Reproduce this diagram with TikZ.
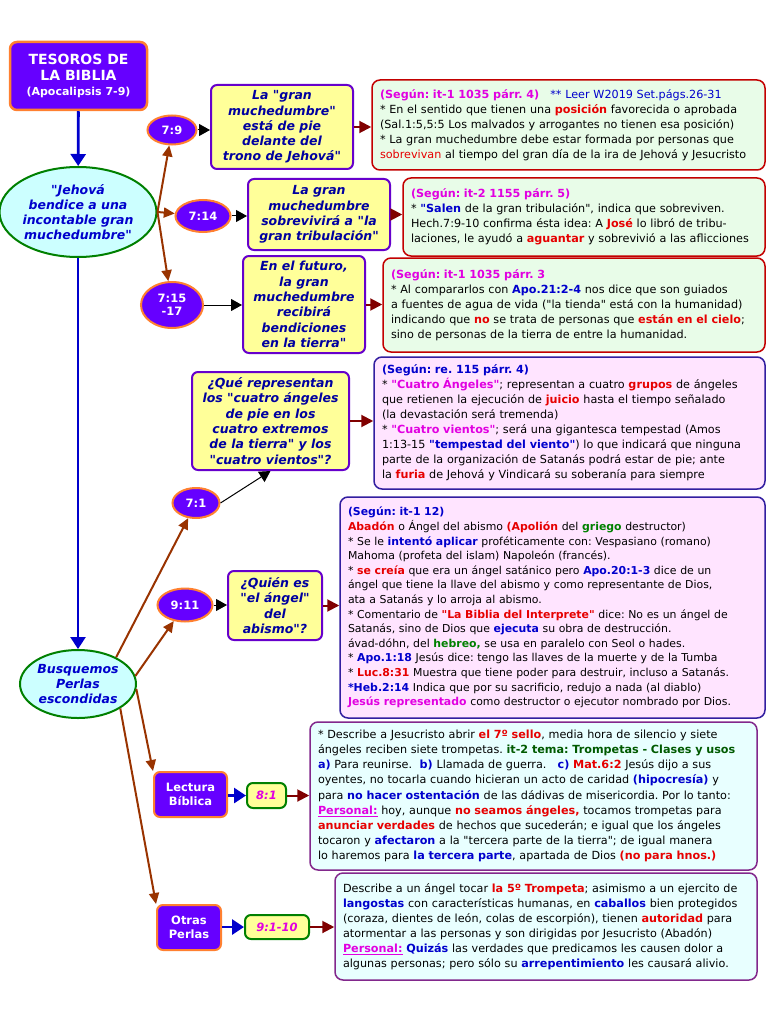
\documentclass[tikz,border=0pt]{standalone}
\usepackage{fontspec}
\setmainfont{DejaVu Sans}[Ligatures=TeXOff]
\usepackage{xcolor}
\usetikzlibrary{shapes.geometric, arrows.meta, positioning, calc}
\definecolor{bibviolet}{RGB}{102,0,255}
\definecolor{biborange}{RGB}{255,128,48}
\definecolor{bibgreen}{RGB}{0,128,0}
\definecolor{bibdkgreen}{RGB}{0,90,0}
\definecolor{bibcyan}{RGB}{204,255,255}
\definecolor{bibyellow}{RGB}{255,255,153}
\definecolor{bibpurple}{RGB}{102,0,204}
\definecolor{bibbrown}{RGB}{153,51,0}
\definecolor{bibmaroon}{RGB}{128,0,0}
\definecolor{bibred}{RGB}{230,0,0}
\definecolor{bibblue}{RGB}{0,0,204}
\definecolor{bibnavy}{RGB}{0,0,160}
\definecolor{bibmagenta}{RGB}{225,0,225}
\definecolor{notegreen}{RGB}{232,252,232}
\definecolor{notepink}{RGB}{255,228,255}
\definecolor{notecyan}{RGB}{232,255,255}
\definecolor{noteindigo}{RGB}{50,30,160}
\definecolor{noteplum}{RGB}{130,40,140}

\newcommand{\rojo}[1]{{\color{bibred}\bfseries #1}}
\newcommand{\azul}[1]{{\color{bibblue}\bfseries #1}}
\newcommand{\rosa}[1]{{\color{bibmagenta}\bfseries #1}}
\newcommand{\verde}[1]{{\color{bibgreen}\bfseries #1}}
\newcommand{\personal}[1]{{\color{bibmagenta}\bfseries\underline{#1}}}
\frenchspacing

\begin{document}
\begin{tikzpicture}[
    x=1pt, y=-1pt,
    title/.style={rectangle, rounded corners=7pt, draw=biborange, line width=2.5pt,
                  fill=bibviolet, text=white, inner sep=0pt, align=center,
                  font=\bfseries\fontsize{14}{15.5}\selectfont},
    part/.style={rectangle, rounded corners=6pt, draw=biborange, line width=2pt,
                 fill=bibviolet, text=white, inner sep=0pt, align=center,
                 font=\bfseries\fontsize{11.5}{14}\selectfont},
    verse/.style={ellipse, draw=biborange, line width=2pt, fill=bibviolet,
                  text=white, inner sep=0pt, align=center,
                  font=\bfseries\fontsize{11.5}{13.5}\selectfont},
    theme/.style={ellipse, draw=bibgreen, line width=2pt, fill=bibcyan,
                  text=bibblue, inner sep=0pt, align=center,
                  font=\bfseries\itshape\fontsize{12.5}{15}\selectfont},
    idea/.style={rectangle, rounded corners=6pt, draw=bibpurple, line width=2pt,
                 fill=bibyellow, text=bibnavy, inner sep=0pt, align=center,
                 font=\bfseries\itshape\fontsize{12.5}{15.3}\selectfont},
    cita/.style={rectangle, rounded corners=6pt, draw=bibgreen, line width=2pt,
                 fill=bibyellow, text=bibmagenta, inner sep=0pt,
                 font=\bfseries\itshape\fontsize{11.5}{13}\selectfont},
    note/.style={rectangle, rounded corners=8pt, line width=1.5pt, align=left,
                 inner xsep=8pt, inner ysep=0pt, font=\fontsize{11.2}{15}\selectfont},
    notegrn/.style={note, draw=bibred!85!black, fill=notegreen},
    notepnk/.style={note, draw=noteindigo, fill=notepink},
    notecyn/.style={note, draw=noteplum, fill=notecyan},
    blu/.style={-{Triangle[length=12pt,width=15pt]}, line width=2.8pt, bibblue},
    brn/.style={-{Triangle[length=11pt,width=10pt]}, line width=2pt, bibbrown},
    blk/.style={-{Triangle[length=11pt,width=12pt]}, line width=1pt, black},
    mrn/.style={-{Triangle[length=12pt,width=12pt]}, line width=2pt, bibmaroon}
  ]
    \useasboundingbox[fill=white] (0,0) rectangle (768,1024);

    \node[title, minimum width=137pt, minimum height=68pt] (tit) at (78.5,76)
      {TESOROS DE\\LA BIBLIA\\{\fontsize{11}{13}\selectfont (Apocalipsis 7-9)}};
    \node[theme, minimum width=156pt, minimum height=90pt] (jeh) at (78,212)
      {"Jehová\\bendice a una\\incontable gran\\muchedumbre"};
    \node[theme, minimum width=116pt, minimum height=68pt] (busq) at (78,684)
      {Busquemos\\Perlas\\escondidas};

    \node[verse, minimum width=49pt, minimum height=29pt] (v79) at (172,130) {7:9};
    \node[verse, minimum width=55pt, minimum height=32pt] (v714) at (203,216) {7:14};
    \node[verse, minimum width=62pt, minimum height=46pt] (v715) at (172,305) {7:15\\-17};
    \node[verse, minimum width=47pt, minimum height=30pt] (v71) at (196,503) {7:1};
    \node[verse, minimum width=55pt, minimum height=33pt] (v911) at (185,605) {9:11};

    \node[idea, minimum width=142pt, minimum height=84pt] (i1) at (282,127)
      {La "gran\\muchedumbre"\\está de pie\\delante del\\trono de Jehová"};
    \node[idea, minimum width=142pt, minimum height=71pt] (i2) at (319,214.5)
      {La gran\\muchedumbre\\sobrevivirá a "la\\gran tribulación"};
    \node[idea, minimum width=122pt, minimum height=97pt] (i3) at (304,304.5)
      {En el futuro,\\la gran\\muchedumbre\\recibirá\\bendiciones\\en la tierra"};
    \node[idea, minimum width=157pt, minimum height=98pt] (i4) at (270.5,421)
      {¿Qué representan\\los "cuatro ángeles\\de pie en los\\cuatro extremos\\de la tierra" y los\\"cuatro vientos"?};
    \node[idea, minimum width=94pt, minimum height=69pt] (i5) at (275,605.5)
      {¿Quién es\\"el ángel"\\del\\abismo"?};

    \node[part, minimum width=73pt, minimum height=45pt] (lect) at (190.5,794.5) {Lectura\\Bíblica};
    \node[part, minimum width=64pt, minimum height=45pt] (otras) at (189,927.5) {Otras\\Perlas};
    \node[cita, minimum width=39pt, minimum height=25pt] (c81) at (266.5,795.5) {8:1};
    \node[cita, minimum width=64pt, minimum height=24pt] (c91) at (277,927) {9:1-10};

    \node[notegrn, minimum width=393pt, minimum height=90pt, text width=377pt] (n1) at (568.5,125)
      {\rosa{(Según: it-1 1035 párr. 4)}\quad{\color{bibblue}** Leer W2019 Set.págs.26-31}\\
       {*} En el sentido que tienen una \rojo{posición} favorecida o aprobada\\
       (Sal.1:5,5:5 Los malvados y arrogantes no tienen esa posición)\\
       {*} La gran muchedumbre debe estar formada por personas que\\
       {\color{bibred}sobrevivan} al tiempo del gran día de la ira de Jehová y Jesucristo};
    \node[notegrn, minimum width=362pt, minimum height=78pt, text width=346pt] (n2) at (584,217)
      {\rosa{(Según: it-2 1155 párr. 5)}\\
       {*} \azul{"Salen} de la gran tribulación", indica que sobreviven.\\
       Hech.7:9-10 confirma ésta idea: A \rojo{José} lo libró de tribu-\\
       laciones, le ayudó a \rojo{aguantar} y sobrevivió a las aflicciones};
    \node[notegrn, minimum width=382pt, minimum height=94pt, text width=366pt] (n3) at (574,305)
      {\rosa{(Según: it-1 1035 párr. 3}\\
       {*} Al compararlos con \azul{Apo.21:2-4} nos dice que son guiados\\
       a fuentes de agua de vida ("la tienda" está con la humanidad)\\
       indicando que \rojo{no} se trata de personas que \rojo{están en el cielo};\\
       sino de personas de la tierra de entre la humanidad.};
    \node[notepnk, minimum width=391pt, minimum height=132pt, text width=375pt] (n4) at (569.5,423)
      {\azul{(Según: re. 115 párr. 4)}\\
       {*} \rosa{"Cuatro Ángeles"}; representan a cuatro \rojo{grupos} de ángeles\\
       que retienen la ejecución de \rojo{juicio} hasta el tiempo señalado\\
       (la devastación será tremenda)\\
       {*} \rosa{"Cuatro vientos"}; será una gigantesca tempestad (Amos\\
       1:13-15 \azul{"tempestad del viento"}) lo que indicará que ninguna\\
       parte de la organización de Satanás podrá estar de pie; ante\\
       la \rojo{furia} de Jehová y Vindicará su soberanía para siempre};
    \node[notepnk, minimum width=425pt, minimum height=221pt, text width=409pt,
          font=\fontsize{10.9}{14.6}\selectfont] (n5) at (552.5,607.5)
      {\azul{(Según: it-1 12)}\\
       \rojo{Abadón} o Ángel del abismo \rojo{(Apolión} del \verde{griego} destructor)\\
       {*} Se le \azul{intentó aplicar} proféticamente con: Vespasiano (romano)\\
       Mahoma (profeta del islam) Napoleón (francés).\\
       {*} \rojo{se creía} que era un ángel satánico pero \azul{Apo.20:1-3} dice de un\\
       ángel que tiene la llave del abismo y como representante de Dios,\\
       ata a Satanás y lo arroja al abismo.\\
       {*} Comentario de \rojo{"La Biblia del Interprete"} dice: No es un ángel de\\
       Satanás, sino de Dios que \azul{ejecuta} su obra de destrucción.\\
       ávad-dóhn, del \verde{hebreo,} se usa en paralelo con Seol o hades.\\
       {*} \azul{Apo.1:18} Jesús dice: tengo las llaves de la muerte y de la Tumba\\
       {*} \rojo{Luc.8:31} Muestra que tiene poder para destruir, incluso a Satanás.\\
       \azul{*Heb.2:14} Indica que por su sacrificio, redujo a nada (al diablo)\\
       \rosa{Jesús representado} como destructor o ejecutor nombrado por Dios.};
    \node[notecyn, minimum width=447pt, minimum height=148pt, text width=431pt,
          font=\fontsize{11.2}{15.2}\selectfont] (n6) at (533.5,796)
      {{*} Describe a Jesucristo abrir \rojo{el 7º sello}, media hora de silencio y siete\\
       ángeles reciben siete trompetas. {\color{bibdkgreen}\bfseries it-2 tema: Trompetas - Clases y usos}\\
       \azul{a)} Para reunirse.\ \ \azul{b)} Llamada de guerra.\ \ \ \azul{c)} \rojo{Mat.6:2} Jesús dijo a sus\\
       oyentes, no tocarla cuando hicieran un acto de caridad \azul{(hipocresía)} y\\
       para \azul{no hacer ostentación} de las dádivas de misericordia. Por lo tanto:\\
       \personal{Personal:} hoy, aunque \rojo{no seamos ángeles,} tocamos trompetas para\\
       \rojo{anunciar verdades} de hechos que sucederán; e igual que los ángeles\\
       tocaron y \azul{afectaron} a la "tercera parte de la tierra"; de igual manera\\
       lo haremos para \azul{la tercera parte}, apartada de Dios \rojo{(no para hnos.)}};
    \node[notecyn, minimum width=422pt, minimum height=107pt, text width=406pt] (n7) at (546,926.5)
      {Describe a un ángel tocar \rojo{la 5º Trompeta}; asimismo a un ejercito de\\
       \azul{langostas} con características humanas, en \azul{caballos} bien protegidos\\
       (coraza, dientes de león, colas de escorpión), tienen \rojo{autoridad} para\\
       atormentar a las personas y son dirigidas por Jesucristo (Abadón)\\
       \personal{Personal:} \azul{Quizás} las verdades que predicamos les causen dolor a\\
       algunas personas; pero sólo su \azul{arrepentimiento} les causará alivio.};

    \draw[blu] (tit) -- (jeh);
    \draw[blu] (jeh) -- (busq);
    \draw[brn] (jeh.east) -- (v79);
    \draw[brn] (jeh.east) -- (v714);
    \draw[brn] (jeh.east) -- (v715);
    \draw[brn] (busq.35) -- (v71);
    \draw[brn] (busq.8) -- (v911);
    \draw[brn] (busq.-5) -- (lect.north west);
    \draw[brn] (busq.-30) -- (otras.north west);

    \draw[blk] (v79.east) -- (v79.east -| i1.west);
    \draw[blk] (v714.east) -- (v714.east -| i2.west);
    \draw[blk] (v715.east) -- (v715.east -| i3.west);
    \draw[blk] (v71.east) -- (i4.south);
    \draw[blk] (v911.east) -- (v911.east -| i5.west);
    \draw[blu] (lect.east |- c81.west) -- (c81.west);
    \draw[blu] (otras.east |- c91.west) -- (c91.west);

    \draw[mrn] (i1.east) -- (i1.east -| n1.west);
    \draw[mrn] (i2.east) -- (i2.east -| n2.west);
    \draw[mrn] (i3.east) -- (i3.east -| n3.west);
    \draw[mrn] (i4.east) -- (i4.east -| n4.west);
    \draw[mrn] (i5.east) -- (i5.east -| n5.west);
    \draw[mrn] (c81.east) -- (c81.east -| n6.west);
    \draw[mrn] (c91.east) -- (c91.east -| n7.west);

  \end{tikzpicture}
\end{document}
